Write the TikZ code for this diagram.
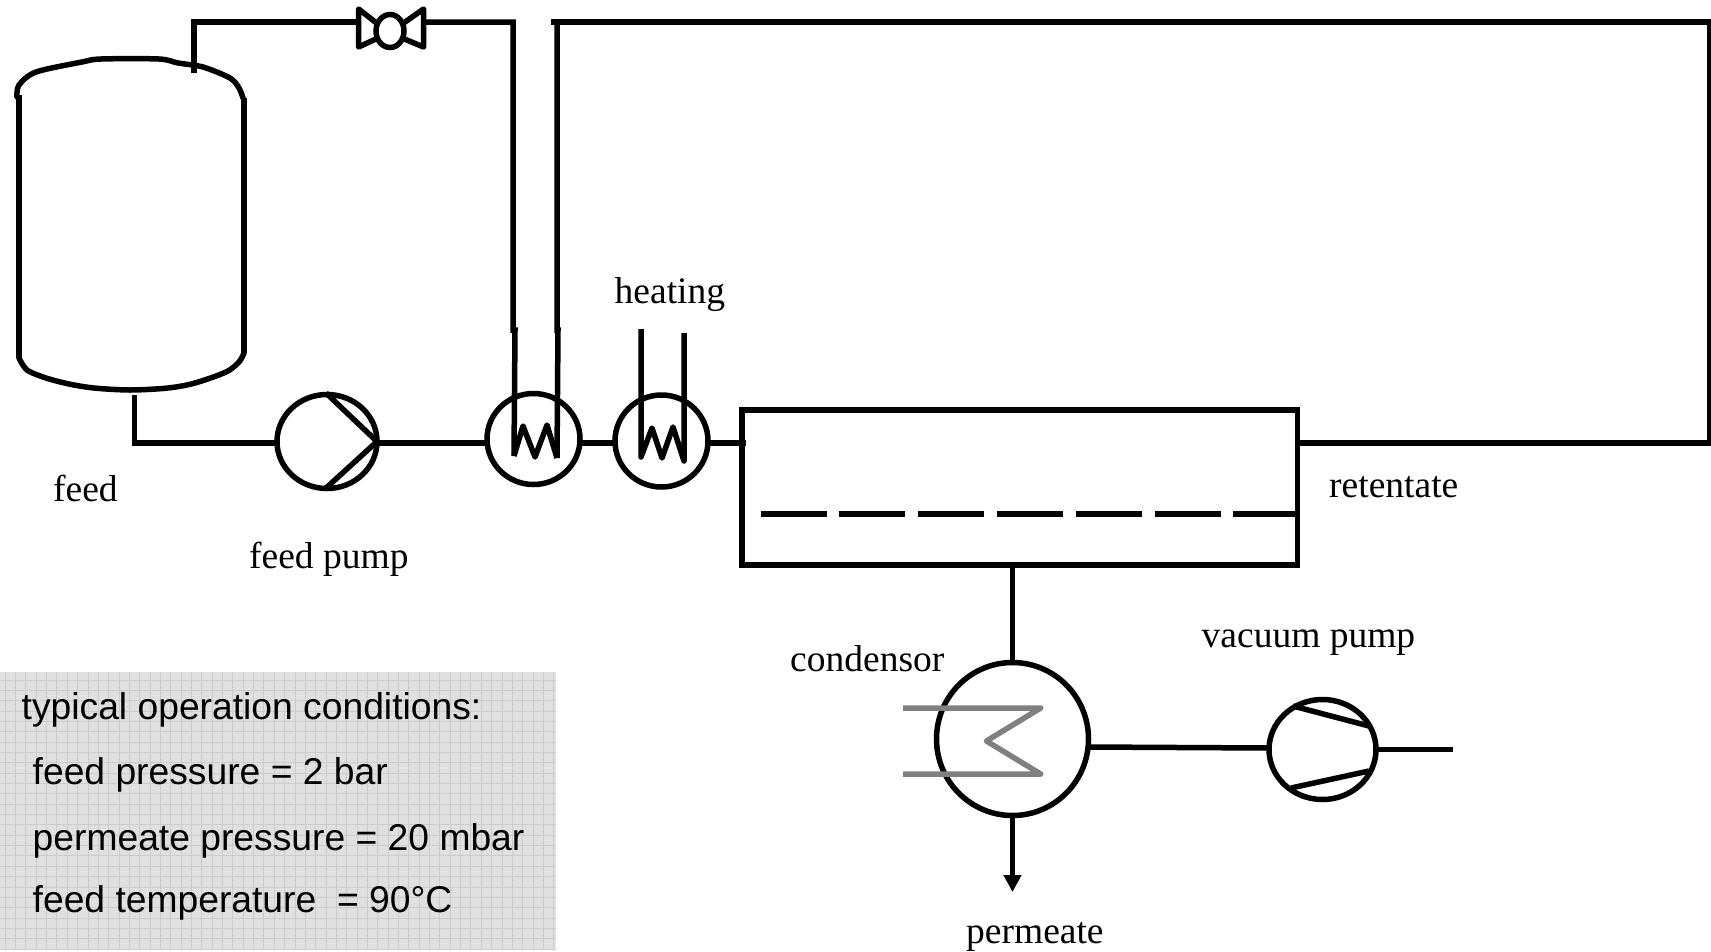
\documentclass[tikz,border=0pt]{standalone}
\usepackage{fontspec}
\setmainfont{Liberation Serif}
\newfontfamily\armfont{Liberation Sans}
\usetikzlibrary{shapes.geometric,arrows.meta}
\tikzset{
  pipe/.style={line width=5.5pt,line cap=butt,line join=miter,black},
  zig/.style={line width=5.5pt,line cap=butt,line join=round,black},
  vessel/.style={ellipse,draw=black,line width=5.5pt,fill=none,inner sep=0pt,outer sep=0pt},
  coil/.style={line width=5.5pt,line join=round,draw=black!50},
  lab/.style={anchor=base west,inner sep=0pt,font=\fontsize{37.5}{40}\selectfont},
  cond/.style={anchor=base west,inner sep=0pt,font=\armfont\fontsize{37.25}{40}\selectfont}
}
\begin{document}
\begin{tikzpicture}[x=1pt,y=-1pt]
\useasboundingbox (0,0) rectangle (1711,951);
% panel
\fill[black!12] (0,672) rectangle (556,950);
\begin{scope}
\clip (0,672) rectangle (556,950);
\foreach \i in {0,...,54} {\draw[black!20,line width=1pt] ({5.2+\i*10.35},672) -- ({5.2+\i*10.35},950);}
\foreach \i in {0,...,27} {\draw[black!20,line width=1pt] (0,{680+\i*10.35}) -- (556,{680+\i*10.35});}
\end{scope}
% tank
\draw[zig,line cap=round] plot[smooth,tension=0.5] coordinates {(17,97) (19,85) (36,72) (82,62) (101,59) (159,59) (178,63) (203,67) (230,78) (239,88) (243,98)};
\draw[pipe] (19,95) -- (19,358);
\draw[pipe] (244,98) -- (244,353);
\draw[zig,line cap=round] plot[smooth,tension=0.5] coordinates {(19,358) (27,370) (46,378) (69,384) (94,388) (130,390) (168,388) (195,383) (226,372) (239,362) (244,353)};
% equipment
\node[vessel,minimum width=100pt,minimum height=94pt] (pump) at (327,441.5) {};
\node[vessel,minimum width=93pt,minimum height=91pt] (hxa) at (533.5,439) {};
\node[vessel,minimum width=93pt,minimum height=92pt] (hxb) at (661.5,441) {};
\node[vessel,minimum width=28pt,minimum height=33pt] (valve) at (390,31) {};
\node[vessel,minimum width=152pt,minimum height=153pt] (cond) at (1012.5,739) {};
\node[vessel,minimum width=107pt,minimum height=100pt] (vac) at (1322.5,749.5) {};
\node[rectangle,draw=black,line width=5.5pt,inner sep=0pt,outer sep=0pt,minimum width=555.5pt,minimum height=155pt] (mem) at (1019.75,487.5) {};
% named ends
\coordinate (tanktop) at (194,73);
\coordinate (tankbot) at (134.5,395);
\coordinate (valvel) at (358.6,22);
\coordinate (valver) at (423.6,22);
\coordinate (hxaL) at (514,456);
\coordinate (hxaR) at (557,458);
\coordinate (retend) at (551,22);
\coordinate (hxbL) at (641,329);
\coordinate (hxbR) at (684,333);
\coordinate (vacend) at (1453,749.5);
\coordinate (permend) at (1012.5,892);
% valve
\draw[zig] (valve.150) -- (358.6,9) -- (358.6,47) -- (valve.210);
\draw[zig] (valve.30) -- (423.6,9) -- (423.6,47) -- (valve.-30);
% pipes
\draw[pipe] (tanktop) |- (valvel);
\draw[pipe] (valver) -| (513,330) -- (515,330) -- (hxaL);
\draw[pipe] (retend) -- (1710,22) -- (1710,443) -- (mem.east |- 0,443);
\draw[pipe] (557,20) -- (557,330) -- (558,330) -- (hxaR);
\draw[pipe] (tankbot) |- (pump.west |- 0,443);
\draw[pipe] (pump.east |- 0,443) -- (hxa.west |- 0,443);
\draw[pipe] (hxa.east |- 0,443) -- (hxb.west |- 0,443);
\draw[pipe] (hxb.east |- 0,443) -- (746,443);
% pump blades
\draw[zig] (326,393) -- (pump.east) -- (325,489);
% exchangers
\draw[zig] (hxaL) -- (523,426) -- (535,457) -- (547,425) -- (hxaR);
\draw[zig] (hxbL) -- (641,457) -- (652,428) -- (662,458) -- (673,427) -- (684,461) -- (hxbR);
% membrane
\draw[line width=6pt,dash pattern=on 66pt off 12.8pt] (760.6,514) -- (1297,514);
% permeate side
\draw[pipe] (mem.south -| cond.north) -- (cond.north);
\draw[pipe,-{Triangle[length=17pt,width=17pt]}] (cond.south) -- (permend);
\draw[pipe] (cond.east |- 0,747) -- (vac.west |- 0,748);
\draw[pipe] (vac.east) -- (vacend);
\draw[pipe] (1293,706) -- (1369,726);
\draw[pipe] (1291,788) -- (1369,771);
\draw[coil] (903,708) -- (1040.7,708) -- (986.4,741) -- (1040.7,774) -- (903,774);
% labels
\node[lab] (tfeed) at (53,501) {feed};
\node[lab] (tfp) at (249,568) {feed pump};
\node[lab] (theat) at (614.5,303) {heating};
\node[lab] (tret) at (1329,497) {retentate};
\node[lab] (tvac) at (1201.5,647.5) {vacuum pump};
\node[lab] (tcond) at (790,671) {condensor};
\node[lab] (tperm) at (966,943) {permeate};
\node[cond] (c1) at (21.5,719) {typical operation conditions:};
\node[cond] (c2) at (32.5,784) {feed pressure = 2 bar};
\node[cond] (c3) at (32.5,850) {permeate pressure = 20 mbar};
\node[cond] (c4) at (32.5,912) {feed temperature\ \ = 90°C};
\end{tikzpicture}
\end{document}
